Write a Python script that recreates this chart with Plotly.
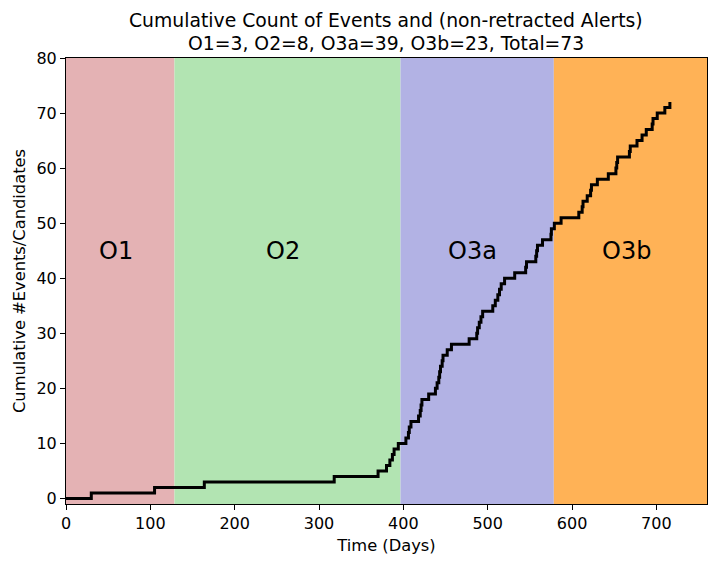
import plotly.graph_objects as go

# Step times (days) and cumulative counts
days = [0, 30, 105, 164, 318, 370, 380, 384, 387, 389, 394, 403, 406, 407, 409,
        418, 420, 421, 422, 430, 438, 440, 442, 443, 444, 446, 447, 452, 457,
        478, 487, 488, 490, 492, 494, 506, 509, 512, 514, 516, 520, 532, 545, 546,
        557, 558, 559, 565, 575, 575.5, 579, 587, 608, 612, 613, 618, 622, 623,
        630, 643, 652, 653, 654, 668, 669, 677, 683, 688, 695, 696, 701, 710, 716]
counts = list(range(0, 73))

run_names = ["O1", "O2", "O3a", "O3b"]
run_starts = [0, 128.6, 396.6, 578.4]
run_ends = [128.6, 396.6, 578.4, 760]
run_colors = ["#e4b2b4", "#b2e4b2", "#b2b2e4", "#ffb256"]
label_x = [59, 257, 482, 664]
label_y = 45

title_lines = ["Cumulative Count of Events and (non-retracted Alerts)",
               "O1=3, O2=8, O3a=39, O3b=23, Total=73"]

fig = go.Figure()

for s, e, c in zip(run_starts, run_ends, run_colors):
    fig.add_vrect(x0=s, x1=e, fillcolor=c, opacity=1, line_width=0, layer="below")

fig.add_trace(go.Scatter(x=days, y=counts, mode="lines", line_shape="hv",
                         line=dict(color="black", width=3), showlegend=False))

for n, x in zip(run_names, label_x):
    fig.add_annotation(x=x, y=label_y, text=n, showarrow=False,
                       font=dict(size=24, color="black", family="DejaVu Sans"))

# title lines, centred at ~20 px and ~44 px from the top of the page
for txt, yy in zip(title_lines, [1.0852, 1.0314]):
    fig.add_annotation(xref="paper", yref="paper", x=0.499, y=yy, text=txt,
                       showarrow=False, xanchor="center", yanchor="middle",
                       font=dict(size=18.8, color="black", family="DejaVu Sans"))

fig.update_layout(
    width=720, height=566,
    margin=dict(l=58, r=21, t=50, b=70),
    paper_bgcolor="white", plot_bgcolor="white",
    font=dict(family="DejaVu Sans", size=16, color="black"),
    xaxis=dict(range=[0, 760], tickvals=[0, 100, 200, 300, 400, 500, 600, 700],
               ticks="outside", ticklen=5, tickcolor="black", showgrid=False, zeroline=False,
               showline=True, linecolor="black", linewidth=1, mirror=True,
               tickfont=dict(size=16),
               title=dict(text="Time (Days)", font=dict(size=16.3), standoff=7)),
    yaxis=dict(range=[-1, 80], tickvals=[0, 10, 20, 30, 40, 50, 60, 70, 80],
               ticks="outside", ticklen=5, tickcolor="black", showgrid=False, zeroline=False,
               showline=True, linecolor="black", linewidth=1, mirror=True,
               tickfont=dict(size=16),
               title=dict(text="Cumulative #Events/Candidates", font=dict(size=16.3), standoff=6)),
)

fig.write_html("out.html")
